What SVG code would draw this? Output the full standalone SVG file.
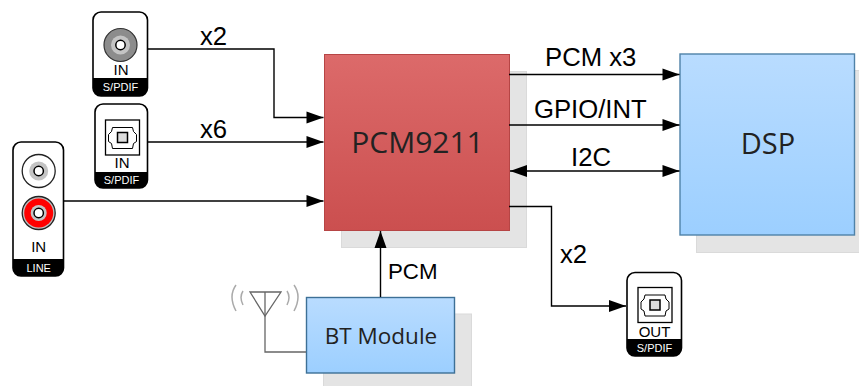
<svg xmlns="http://www.w3.org/2000/svg" width="859" height="386" viewBox="0 0 859 386">
<style>
.a{font-family:"Liberation Sans",Arial,sans-serif;fill:#000}
.l{font-size:25.7px}
.c{font-family:"Open Sans","Noto Sans",sans-serif;fill:#222;text-anchor:middle}
.w{fill:none;stroke:#000;stroke-width:1.4}
.sh{fill:#e4e4e4;stroke:#dadada;stroke-width:1}
.card{fill:#fff;stroke:#000;stroke-width:1.6}
.in{font-family:"Liberation Sans",Arial,sans-serif;font-size:15px;text-anchor:middle;fill:#000}
.tag{font-family:"Liberation Sans",Arial,sans-serif;font-size:11px;text-anchor:middle;fill:#fff}
.ant{fill:none;stroke:#666;stroke-width:1.3}
.wave{fill:none;stroke:#aaa;stroke-width:1.5}
</style>
<defs>
<linearGradient id="red" x1="0" y1="0" x2="0" y2="1"><stop offset="0" stop-color="#dc6a6a"/><stop offset="1" stop-color="#cb4f4f"/></linearGradient>
<linearGradient id="blue" x1="0" y1="0" x2="0" y2="1"><stop offset="0" stop-color="#b9dcff"/><stop offset="1" stop-color="#9ccfff"/></linearGradient>
<marker id="arr" markerUnits="userSpaceOnUse" markerWidth="18" markerHeight="14" refX="17.5" refY="6" orient="auto-start-reverse" viewBox="0 0 18 12"><path d="M0.5 0 L17.5 6 L0.5 12 Z" fill="#000"/></marker>
<g id="opt"><rect x="-17" y="-17.500" width="34" height="35" fill="#fff" stroke="#000" stroke-width="1.3"/><path d="M-10-10H10L11-6 14-3V4L11 6 10 11H-10L-11 6-14 4V-3L-11-6Z" fill="none" stroke="#000" stroke-width="1"/><rect x="-5" y="-5" width="10" height="10" fill="#ddd" stroke="#000" stroke-width="1.5"/></g>
</defs>

<g id="shadows">
<rect class="sh" x="341.500" y="71.500" width="185" height="176"/>
<rect class="sh" x="696.500" y="70.500" width="170" height="182"/>
<rect class="sh" x="323.500" y="314" width="148" height="80"/>
</g>

<g id="pcm9211"><rect x="324.500" y="54.500" width="185" height="176" fill="url(#red)" stroke="#b64545" stroke-width="1"/><text class="c" x="417.500" y="153" font-size="30">PCM9211</text></g>
<g id="dsp"><rect x="680" y="54" width="174.500" height="181" fill="url(#blue)" stroke="#4f82a8" stroke-width="1.4"/><text class="c" x="768" y="154" font-size="29">DSP</text></g>
<g id="bt-module"><rect x="306.500" y="297.500" width="148" height="75.500" fill="url(#blue)" stroke="#3d7096" stroke-width="1.4"/><text class="c" x="381" y="344" font-size="22.500">BT Module</text></g>

<g id="connectors">
<path class="w" marker-end="url(#arr)" d="M147 49H274V117.500H323.500"/>
<path class="w" marker-end="url(#arr)" d="M147 142H323.500"/>
<path class="w" marker-end="url(#arr)" d="M63 201H323.500"/>
<path class="w" marker-end="url(#arr)" d="M509 74.500H679.500"/>
<path class="w" marker-end="url(#arr)" d="M509 125H679.500"/>
<path class="w" marker-start="url(#arr)" marker-end="url(#arr)" d="M510 171H679.500"/>
<path class="w" marker-end="url(#arr)" d="M509 206.500H551.500V306H626"/>
<path class="w" marker-end="url(#arr)" d="M380.500 297V231"/>
<path class="ant" d="M306 352H265V316"/>
</g>

<g id="labels">
<text class="a l" x="200" y="45">x2</text>
<text class="a l" x="200" y="138">x6</text>
<text class="a l" x="545" y="66">PCM x3</text>
<text class="a l" x="534" y="118">GPIO/INT</text>
<text class="a l" x="571" y="166">I2C</text>
<text class="a l" x="560" y="263">x2</text>
<text class="a" x="388" y="279" font-size="22.300">PCM</text>
</g>

<g id="spdif-coax-in"><rect class="card" x="93" y="12" width="54.500" height="84" rx="8"/><path d="M93 78H147.500V88a8 8 0 0 1-8 8H101a8 8 0 0 1-8-8Z" fill="#000"/><circle cx="120.500" cy="45" r="16.500" fill="#8c8c8c" stroke="#333" stroke-width="1.200"/><circle cx="120.500" cy="45" r="9.500" fill="#c4c4c4"/><circle cx="120.500" cy="45" r="4.700" fill="#fff" stroke="#000" stroke-width="1.500"/><text class="in" x="121" y="75">IN</text><text class="tag" x="120.500" y="91">S/PDIF</text></g>

<g id="spdif-opt-in"><rect class="card" x="95" y="104" width="52.500" height="84" rx="8"/><path d="M95 172H147.500V180a8 8 0 0 1-8 8H103a8 8 0 0 1-8-8Z" fill="#000"/><use href="#opt" x="122.500" y="137.500"/><text class="in" x="122" y="168">IN</text><text class="tag" x="121.500" y="184">S/PDIF</text></g>

<g id="line-in"><rect class="card" x="13" y="142" width="50.500" height="134" rx="8"/><path d="M13 259H63.500V268a8 8 0 0 1-8 8H21a8 8 0 0 1-8-8Z" fill="#000"/><circle cx="38.700" cy="171" r="16.500" fill="#fff" stroke="#222" stroke-width="1.300"/><circle cx="38.700" cy="171" r="9.500" fill="#c4c4c4"/><circle cx="38.700" cy="171" r="4.700" fill="#fff" stroke="#000" stroke-width="1.500"/><circle cx="38.700" cy="213" r="16.500" fill="#bdbdbd" stroke="#222" stroke-width="1.300"/><circle cx="38.700" cy="213" r="14.500" fill="#f00"/><circle cx="38.700" cy="213" r="8" fill="#c4c4c4"/><circle cx="38.700" cy="213" r="4.700" fill="#fff" stroke="#000" stroke-width="1.500"/><text class="in" x="38.700" y="252">IN</text><text class="tag" x="38.700" y="272">LINE</text></g>

<g id="spdif-opt-out"><rect class="card" x="627" y="272.500" width="54.500" height="83.500" rx="8"/><path d="M627 339H681.500V348a8 8 0 0 1-8 8H635a8 8 0 0 1-8-8Z" fill="#000"/><use href="#opt" x="655" y="305"/><text class="in" x="654.500" y="337">OUT</text><text class="tag" x="654.500" y="351.500">S/PDIF</text></g>

<g id="antenna"><path class="ant" d="M250 292H281L265 316Z"/><path class="ant" d="M265 292V316"/><path class="wave" d="M236 285Q228 296 236 311M243 291Q239 297 243 305M287 291Q291 297 287 305M294 285Q302 296 294 311"/></g>
</svg>
